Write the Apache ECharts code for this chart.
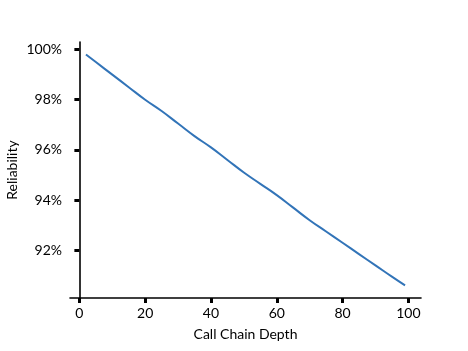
<!DOCTYPE html>
<html>
<head>
<meta charset="utf-8">
<script src="https://cdn.jsdelivr.net/npm/echarts@6/dist/echarts.min.js"></script>
<style>
  html, body { margin: 0; padding: 0; background: #fff; }
  #chart { width: 468px; height: 351px; }
</style>
</head>
<body>
<div id="chart"></div>
<script>
// call chain depth and the reliability (in %)
const depth = [2, 5, 10, 15, 20, 25, 30, 35, 40, 45, 50, 55, 60, 65, 70, 75, 80, 85, 90, 95, 99];
const reliability = [99.8, 99.5, 99.0, 98.5, 98.0, 97.55, 97.05, 96.55, 96.1, 95.6, 95.1, 94.65, 94.2, 93.7, 93.2, 92.75, 92.3, 91.85, 91.4, 90.95, 90.6];
const xTicks = [0, 20, 40, 60, 80, 100];
const yTicks = [92, 94, 96, 98, 100];

const font = 'Lato, "Open Sans", sans-serif';
const myChart = echarts.init(document.getElementById('chart'));

myChart.setOption({
  animation: false,
  grid: {
    left: 70,
    right: 47,
    top: 42,
    bottom: 53,
    outerBoundsMode: 'none'
  },
  xAxis: {
    type: 'value',
    min: -2.85,
    max: 103.85,
    name: 'Call Chain Depth',
    nameLocation: 'center',
    nameGap: 29,
    nameTextStyle: { fontFamily: font, fontSize: 14, color: '#000' },
    axisLine: { show: true, lineStyle: { color: '#000', width: 1.6 } },
    axisTick: {
      show: true,
      customValues: xTicks,
      length: 5,
      lineStyle: { color: '#000', width: 3 }
    },
    axisLabel: {
      customValues: xTicks,
      fontFamily: font,
      fontSize: 14,
      color: '#000',
      margin: 8
    },
    splitLine: { show: false }
  },
  yAxis: {
    type: 'value',
    min: 90.1,
    max: 100.3,
    name: 'Reliability',
    nameLocation: 'center',
    nameRotate: 90,
    nameGap: 51,
    nameMoveOverlap: false,
    nameTextStyle: { fontFamily: font, fontSize: 14, color: '#000' },
    axisLine: { show: true, lineStyle: { color: '#000', width: 1.6 } },
    axisTick: {
      show: true,
      customValues: yTicks,
      length: 5,
      lineStyle: { color: '#000', width: 3 }
    },
    axisLabel: {
      customValues: yTicks,
      formatter: (v) => `${v}%`,
      fontFamily: font,
      fontSize: 14,
      color: '#000',
      margin: 8
    },
    splitLine: { show: false }
  },
  series: [
    {
      type: 'line',
      data: depth.map((d, i) => [d, reliability[i]]),
      showSymbol: false,
      smooth: true,
      lineStyle: { color: '#3274b8', width: 2 }
    }
  ]
});

window.addEventListener('resize', () => { myChart.resize(); });
</script>
</body>
</html>
